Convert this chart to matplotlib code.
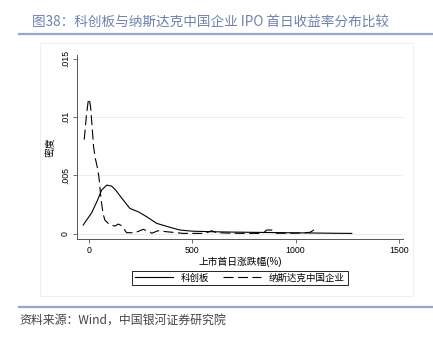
import numpy as np
import matplotlib.pyplot as plt
from matplotlib.lines import Line2D

plt.rcParams['font.family'] = ['Liberation Sans', 'Noto Sans CJK SC', 'DejaVu Sans']

# 科创板 density
kcb_x = [-28, 13, 40, 61, 86, 110, 130, 160, 198, 239, 279, 328, 392, 440, 500,
         600, 700, 800, 900, 1000, 1100, 1200, 1272]
kcb_y = [.00073, .00178, .0028, .00372, .00415, .00406, .0037, .003, .00215, .00186,
         .00144, .00087, .00053, .00030, .00020, .00015, .00012, .0001, .00008,
         .00006, .00004, .00002, .00001]

# 纳斯达克中国企业 density
nas_x = [-23, -12, -4, 1.5, 8, 15, 22, 29, 40, 48, 58, 68, 77, 93, 110, 126, 142,
         155, 166, 182, 223, 263, 271, 295, 303, 335, 376, 420, 456, 561, 594,
         618, 700, 842, 860, 884, 908, 1000, 1070, 1094]
nas_y = [.00805, .0102, .0113, .01155, .0108, .0092, .0075, .00656, .0057, .00485,
         .003, .0017, .00115, .00087, .0007, .00064, .00081, .0007, .00047, .00007,
         .00007, .00036, .0003, .00015, .00002, .00024, .00015, .00008, .00001,
         .00001, .00024, .00007, .00002, .00001, .0003, .0003, .00002, .00003,
         .0001, .00036]

xticks = [0, 500, 1000, 1500]
yticks = [0, .005, .01, .015]
ytick_labels = ['0', '.005', '.01', '.015']

W, H = 433, 337
fig = plt.figure(figsize=(W / 100, H / 100), dpi=100)

blue = '#94a6cf'
# top and bottom rules
fig.add_artist(Line2D([19 / W, 1], [1 - 34 / H] * 2, color=blue, lw=1.6))
fig.add_artist(Line2D([19 / W, 1], [1 - 307 / H] * 2, color=blue, lw=1.6))
# faint panel box
fig.add_artist(plt.Rectangle((40 / W, 1 - 296 / H), 373 / W, 253 / H,
                             fill=False, ec='#eef1f1', lw=0.8))

fig.text(32 / W, 1 - 22.5 / H, '图38：科创板与纳斯达克中国企业 IPO 首日收益率分布比较',
         fontsize=9.8, color='#6f82ad', va='center', ha='left',
         family=['Noto Sans CJK SC', 'DejaVu Sans'])
fig.text(19 / W, 1 - 320 / H, '资料来源：Wind，中国银河证券研究院',
         fontsize=8.6, color='#444444', va='center', ha='left', style='italic',
         family=['Noto Sans CJK SC', 'DejaVu Sans'])

ax = fig.add_axes([77 / W, 1 - 239 / H, 326 / W, 184 / H])
ax.set_xlim(-58, 1520)
ax.set_ylim(-0.00047, 0.0153)

for v in [0, .005, .01]:
    ax.axhline(v, color='#e6eff0', lw=0.8, zorder=0)

ax.plot(kcb_x, kcb_y, color='black', lw=0.8, label='科创板')
ax.plot(nas_x, nas_y, color='black', lw=0.8, dashes=(9, 4), label='纳斯达克中国企业')

for s in ['top', 'right']:
    ax.spines[s].set_visible(False)
for s in ['left', 'bottom']:
    ax.spines[s].set_color('#555555')
    ax.spines[s].set_linewidth(0.7)

ax.set_xticks(xticks)
ax.set_yticks(yticks)
ax.set_yticklabels(ytick_labels, rotation=90, va='center')
ax.tick_params(labelsize=6.3, length=3, width=0.6, color='#555555', pad=2)
ax.set_ylabel('密度', fontsize=7, labelpad=4)
ax.set_xlabel('上市首日涨跌幅(%)', fontsize=7, labelpad=1)

fig.legend(loc='center', bbox_to_anchor=(240 / W, 1 - 278 / H), ncol=2,
           fontsize=6.8, frameon=True, fancybox=False, edgecolor='black',
           framealpha=1, handlelength=4.0, columnspacing=1.5,
           borderpad=0.3, handletextpad=0.8).get_frame().set_linewidth(0.6)

fig.savefig('out.png', dpi=100)
